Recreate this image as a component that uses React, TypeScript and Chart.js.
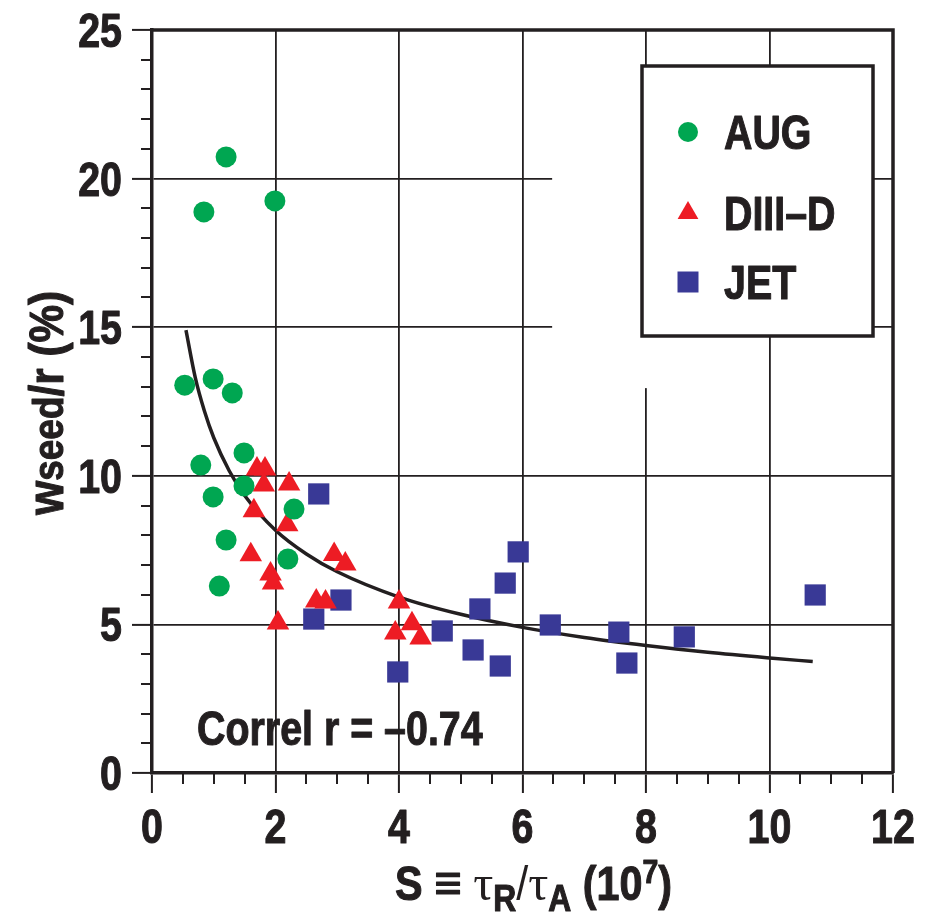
import React, { useEffect, useRef } from 'react';
import { Chart, registerables } from 'chart.js';

Chart.register(...registerables);

// ---------- data ----------
const augX = [0.84, 1.2, 1.99, 0.53, 0.99, 1.3, 1.49, 0.79, 1.49, 0.99, 2.3, 1.2, 2.2, 1.09];
const augY = [18.88, 20.73, 19.25, 13.05, 13.26, 12.79, 10.77, 10.36, 9.66, 9.29, 8.88, 7.84, 7.2, 6.29];

const d3dX = [1.7, 1.83, 1.81, 2.22, 1.65, 2.19, 1.6, 1.92, 1.96, 2.04, 2.66, 2.81, 2.95, 3.13, 4.0, 3.94, 4.21, 4.35];
const d3dY = [10.23, 10.23, 9.69, 9.72, 8.82, 8.35, 7.34, 6.7, 6.39, 5.05, 5.79, 5.75, 7.35, 7.03, 5.75, 4.71, 5.02, 4.54];

const jetX = [2.7, 2.62, 3.06, 3.98, 4.7, 5.31, 5.2, 5.64, 5.72, 5.93, 6.45, 7.56, 7.69, 8.62, 10.74];
const jetY = [9.39, 5.18, 5.82, 3.4, 4.78, 5.52, 4.14, 3.6, 6.39, 7.44, 4.98, 4.74, 3.7, 4.58, 5.99];

const fitX = [0.55, 0.7, 0.85, 1, 1.25, 1.5, 2, 2.5, 3, 4, 5, 6, 7, 8, 9, 10, 10.7];
const fitY = [14.9, 13.31, 12.17, 11.28, 10.17, 9.34, 8.17, 7.37, 6.77, 5.92, 5.34, 4.9, 4.56, 4.29, 4.06, 3.87, 3.75];

const xMajorTicks = [0, 2, 4, 6, 8, 10, 12];
const yMajorTicks = [0, 5, 10, 15, 20, 25];
const xMinorStep = 0.5;
const yMinorStep = 1;

const seriesNames = ['AUG', 'DIII\u2013D', 'JET'];
const correlText = 'Correl r = \u20130.74';

// ---------- styles ----------
const FONT = "'Liberation Sans', Arial, sans-serif";
const SERIF = "'Liberation Serif', serif";
const INK = '#231f20';
const GREEN = '#00a651';
const RED = '#ed1c24';
const BLUE = '#393996';
const SQUEEZE = 0.82; // emulate a condensed bold face

const toPts = (xs: number[], ys: number[]) => xs.map((x, i) => ({ x, y: ys[i] }));

// draws condensed (slightly emboldened) text; returns advance width in screen px
function cText(ctx: CanvasRenderingContext2D, t: string, x: number, y: number, font: string, sx = SQUEEZE, align: 'left' | 'right' | 'center' = 'left', heavy = true) {
  ctx.save();
  ctx.font = font;
  ctx.textBaseline = 'alphabetic';
  ctx.textAlign = 'left';
  const w = ctx.measureText(t).width * sx;
  let x0 = x;
  if (align === 'right') x0 = x - w;
  else if (align === 'center') x0 = x - w / 2;
  ctx.translate(x0, y);
  ctx.scale(sx, 1);
  ctx.fillStyle = INK;
  ctx.fillText(t, 0, 0);
  if (heavy) {
    ctx.strokeStyle = INK;
    ctx.lineWidth = 1.1;
    ctx.lineJoin = 'round';
    ctx.strokeText(t, 0, 0);
  }
  ctx.restore();
  return w;
}

function drawMarker(ctx: CanvasRenderingContext2D, kind: string, cx: number, cy: number, color: string) {
  ctx.fillStyle = color;
  ctx.beginPath();
  if (kind === 'circle') {
    ctx.arc(cx, cy, 10, 0, Math.PI * 2);
  } else if (kind === 'triangle') {
    const r = 12;
    ctx.moveTo(cx, cy - r);
    ctx.lineTo(cx + r * Math.sin(Math.PI / 3), cy + r / 2);
    ctx.lineTo(cx - r * Math.sin(Math.PI / 3), cy + r / 2);
    ctx.closePath();
  } else {
    ctx.rect(cx - 10.5, cy - 10.5, 21, 21);
  }
  ctx.fill();
}

const decor = {
  id: 'decor',
  beforeDatasetsDraw(chart: any) {
    const { ctx, scales } = chart;
    const x = scales.x, y = scales.y;
    ctx.save();
    ctx.fillStyle = '#ffffff';
    const l = x.getPixelForValue(6.48), r = x.getPixelForValue(8.5);
    const t = y.getPixelForValue(21), b = y.getPixelForValue(12.95);
    ctx.fillRect(l, t, r - l, b - t);
    ctx.restore();
  },
  afterDraw(chart: any) {
    const { ctx, chartArea, scales } = chart;
    const x = scales.x, y = scales.y;
    ctx.save();
    // frame top & right
    ctx.strokeStyle = INK;
    ctx.lineWidth = 3.5;
    ctx.beginPath();
    ctx.moveTo(chartArea.left, chartArea.top);
    ctx.lineTo(chartArea.right, chartArea.top);
    ctx.lineTo(chartArea.right, chartArea.bottom);
    ctx.stroke();

    // minor ticks
    ctx.lineWidth = 2;
    ctx.beginPath();
    for (let v = 0; v <= 25 + 1e-9; v += yMinorStep) {
      if (yMajorTicks.includes(Math.round(v))) continue;
      const py = Math.round(y.getPixelForValue(v));
      ctx.moveTo(chartArea.left - 11, py);
      ctx.lineTo(chartArea.left, py);
    }
    for (let v = 0; v <= 12 + 1e-9; v += xMinorStep) {
      if (xMajorTicks.includes(v)) continue;
      const px = Math.round(x.getPixelForValue(v));
      ctx.moveTo(px, chartArea.bottom);
      ctx.lineTo(px, chartArea.bottom + 11);
    }
    ctx.stroke();

    // tick labels (condensed bold), positioned by the scales
    const tickFont = `bold 48px ${FONT}`;
    for (const tk of y.ticks) {
      const py = y.getPixelForValue(tk.value);
      cText(ctx, String(tk.value), chartArea.left - 30, py + 17, tickFont, SQUEEZE, 'right');
    }
    for (const tk of x.ticks) {
      const px = x.getPixelForValue(tk.value);
      cText(ctx, String(tk.value), px, chartArea.bottom + 70, tickFont, SQUEEZE, 'center');
    }

    // legend box
    const lx = 642, ly = 66, lw = 231, lh = 270;
    ctx.fillStyle = '#ffffff';
    ctx.fillRect(lx, ly, lw, lh);
    ctx.strokeStyle = INK;
    ctx.lineWidth = 3.5;
    ctx.strokeRect(lx, ly, lw, lh);
    const kinds = ['circle', 'triangle', 'rect'];
    const colors = [GREEN, RED, BLUE];
    const rowsY = [132, 213, 282];
    for (let i = 0; i < 3; i++) {
      drawMarker(ctx, kinds[i], 688, rowsY[i], colors[i]);
      cText(ctx, seriesNames[i], 724, rowsY[i] + 17, `bold 48px ${FONT}`);
    }

    // correlation annotation
    cText(ctx, correlText, x.getPixelForValue(0.73), y.getPixelForValue(0.95), `bold 48px ${FONT}`);

    // x title: S ≡ τR/τA (10^7)
    let cx = 395;
    const base = 900;
    const seg = (t: string, font: string, dy = 0, sx = 0.86, heavy = true) => {
      cx += cText(ctx, t, cx, base + dy, font, sx, 'left', heavy);
    };
    seg('S ', `bold 48px ${FONT}`);
    seg('\u2261', `bold 50px ${FONT}`, 0, 0.95);
    seg(' ', `bold 48px ${FONT}`);
    seg('\u03c4', `50px ${SERIF}`, 0, 1, false);
    seg('R', `bold 37px ${FONT}`, 11);
    seg('/', `48px ${FONT}`, 0, 0.9, false);
    seg('\u03c4', `50px ${SERIF}`, 0, 1, false);
    seg('A', `bold 37px ${FONT}`, 11);
    seg(' (10', `bold 48px ${FONT}`);
    seg('7', `bold 33px ${FONT}`, -17);
    seg(')', `bold 48px ${FONT}`);

    // y title: w_seed/r (%)
    ctx.save();
    ctx.translate(63, 515);
    ctx.rotate(-Math.PI / 2);
    let tx = 0;
    const yseg = (t: string, font: string) => {
      tx += cText(ctx, t, tx, 0, font, 0.88);
    };
    yseg('w', `bold 50px ${FONT}`);
    yseg('seed', `bold 42px ${FONT}`);
    yseg('/r (%)', `bold 48px ${FONT}`);
    ctx.restore();

    ctx.restore();
  },
};

export default function App() {
  const ref = useRef<HTMLCanvasElement | null>(null);

  useEffect(() => {
    if (!ref.current) return;
    const chart = new Chart(ref.current, {
      type: 'scatter',
      data: {
        datasets: [
          {
            label: 'fit',
            data: toPts(fitX, fitY),
            showLine: true,
            borderColor: INK,
            borderWidth: 3.5,
            pointRadius: 0,
            cubicInterpolationMode: 'monotone',
            order: 10,
          } as any,
          {
            label: seriesNames[0],
            data: toPts(augX, augY),
            pointStyle: 'circle',
            pointRadius: 10.5,
            pointBorderWidth: 0,
            backgroundColor: GREEN,
            borderColor: GREEN,
            order: 1,
          },
          {
            label: seriesNames[1],
            data: toPts(d3dX, d3dY),
            pointStyle: 'triangle',
            pointRadius: 13,
            pointBorderWidth: 0,
            backgroundColor: RED,
            borderColor: RED,
            order: 1,
          },
          {
            label: seriesNames[2],
            data: toPts(jetX, jetY),
            pointStyle: 'rect',
            pointRadius: 15,
            pointBorderWidth: 0,
            backgroundColor: BLUE,
            borderColor: BLUE,
            order: 1,
          },
        ],
      },
      options: {
        animation: false,
        responsive: false,
        events: [],
        layout: { padding: { left: 0, top: 30, right: 37, bottom: 0 } },
        plugins: { legend: { display: false }, tooltip: { enabled: false }, title: { display: false } },
        scales: {
          x: {
            type: 'linear',
            min: 0,
            max: 12,
            afterFit: (s: any) => { s.height = 143; s.paddingLeft = 0; s.paddingRight = 0; },
            afterBuildTicks: (s: any) => { s.ticks = xMajorTicks.map((v) => ({ value: v })); },
            ticks: { display: false },
            grid: { color: INK, lineWidth: 1.8, drawTicks: true, tickLength: 20, tickWidth: 2, tickColor: INK },
            border: { display: true, color: INK, width: 3.5 },
          },
          y: {
            type: 'linear',
            min: 0,
            max: 25,
            afterFit: (s: any) => { s.width = 152; s.paddingTop = 0; s.paddingBottom = 0; },
            afterBuildTicks: (s: any) => { s.ticks = yMajorTicks.map((v) => ({ value: v })); },
            ticks: { display: false },
            grid: { color: INK, lineWidth: 1.8, drawTicks: true, tickLength: 20, tickWidth: 2, tickColor: INK },
            border: { display: true, color: INK, width: 3.5 },
          },
        },
      },
      plugins: [decor],
    });
    return () => chart.destroy();
  }, []);

  return (
    <div style={{ position: 'absolute', left: 0, top: 0, width: 930, height: 916, background: '#fff' }}>
      <canvas ref={ref} width={930} height={916} style={{ width: 930, height: 916, display: 'block' }} />
    </div>
  );
}
